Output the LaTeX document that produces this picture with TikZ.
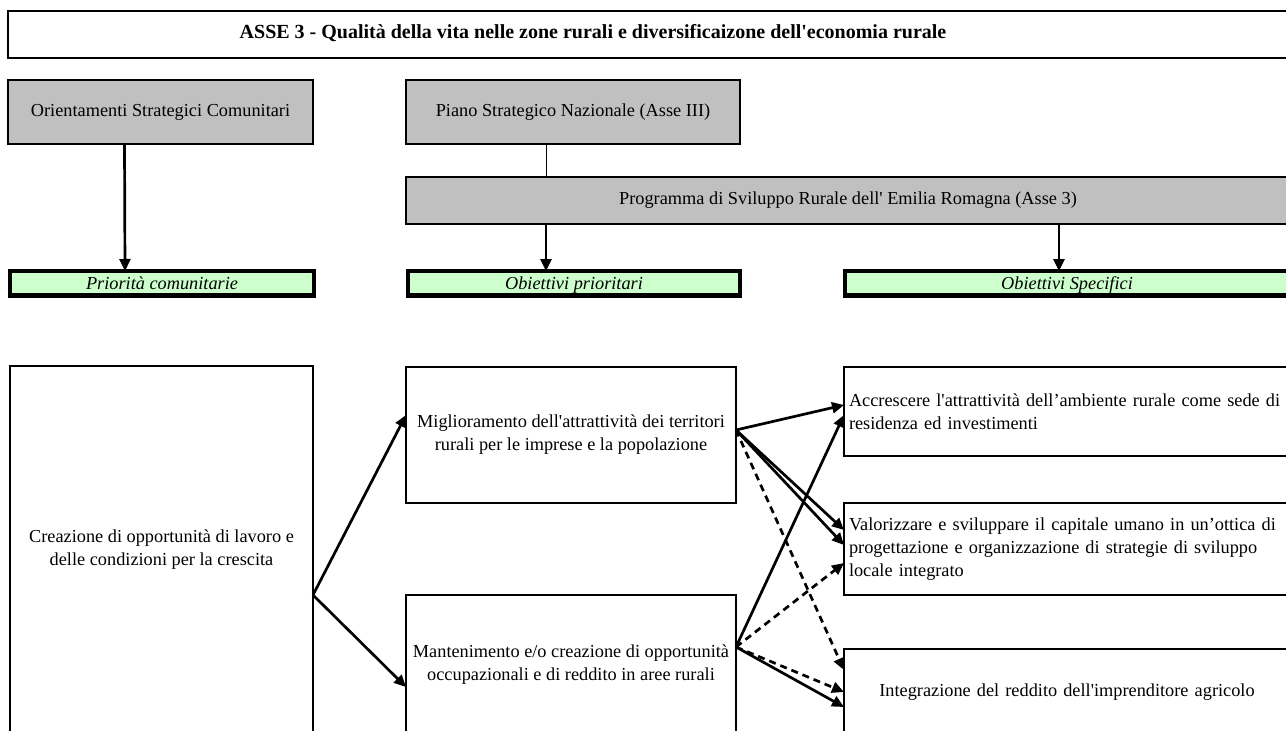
\documentclass[tikz,border=0pt]{standalone}
\usepackage{fontspec}
\setmainfont{Liberation Serif}
\usetikzlibrary{arrows.meta,positioning,calc}
\definecolor{strategyColor}{HTML}{C0C0C0}
\definecolor{goalColor}{HTML}{CCFFCC}
\newcommand{\apos}{\textquotesingle}

\begin{document}
\begin{tikzpicture}[x=1pt,y=-1pt,
    >={Triangle[length=12pt,width=11pt]},align=center,
    every node/.style={font=\fontsize{18.3}{23}\selectfont}]
    \tikzstyle{base}=[draw=black,line width=2.5pt,inner sep=3pt,outer sep=0pt]
    \tikzstyle{banner}=[base,minimum height=47pt]
    \tikzstyle{strategy}=[base,fill=strategyColor,minimum height=64pt]
    \tikzstyle{goalbar}=[base,line width=4.5pt,fill=goalColor,minimum height=24.5pt,inner ysep=0pt,text height=13pt,text depth=0pt,font=\fontsize{18.3}{23}\selectfont\itshape]
    \tikzstyle{measure}=[base,fill=white,minimum width=330pt]
    \tikzstyle{target}=[base,fill=white,minimum width=446pt,text width=436pt,inner xsep=5pt]
    \tikzstyle{arrowline}=[->,line width=2.7pt]
    \tikzstyle{dashline}=[arrowline,dash pattern=on 7pt off 5pt]
    \tikzstyle{joinline}=[line width=1pt]
    \path [use as bounding box,clip] (0,0) rectangle (1286,731);
    % Title
    \node (title) [banner,minimum width=1292pt,anchor=north west] at (8,11) {};
    \node (titleText) at (593,33) {\fontsize{20}{24}\selectfont\bfseries ASSE 3 - Qualità della vita nelle zone rurali e diversificaizone dell\apos economia rurale};
    % Strategy boxes
    \node (orient) [strategy,minimum width=305pt,anchor=north west] at (8,80)
          {Orientamenti Strategici Comunitari};
    \node (piano) [strategy,minimum width=334pt,right=93pt of orient]
          {Piano Strategico Nazionale (Asse III)};
    \node (prog) [strategy,minimum width=884pt,minimum height=47pt,below=33pt of piano.south west,anchor=north west]
          {Programma di Sviluppo Rurale dell\apos{} Emilia Romagna (Asse 3)};
    % Goal bars
    \node (prio) [goalbar,minimum width=304pt,anchor=north west] at (10,271)
          {Priorità comunitarie};
    \node (obPrior) [goalbar,minimum width=332pt,right=94pt of prio]
          {Obiettivi prioritari};
    \node (obSpec) [goalbar,minimum width=444pt,right=105pt of obPrior]
          {Obiettivi Specifici};
    % Measures
    \node (crea) [measure,minimum width=303pt,minimum height=368pt,anchor=north west] at (10,366)
          {Creazione di opportunità di lavoro e\\delle condizioni per la crescita};
    \node (migl) [measure,minimum height=136pt,anchor=north west] at (406,367)
          {Miglioramento dell\apos attrattività dei territori\\rurali per le imprese e la popolazione};
    \node (mant) [measure,minimum height=140pt,below=92pt of migl.south west,anchor=north west]
          {Mantenimento e/o creazione di opportunità\\occupazionali e di reddito in aree rurali};
    \node (accr) [target,align=left,minimum height=89pt,anchor=north west] at (844,367)
          {Accrescere l\apos attrattività dell’ambiente rurale come sede di\\residenza ed investimenti};
    \node (valo) [target,align=left,minimum height=92pt,below=47pt of accr.south west,anchor=north west]
          {Valorizzare e sviluppare il capitale umano in un’ottica di\\progettazione e organizzazione di strategie di sviluppo\\locale integrato};
    \node (integ) [target,minimum height=86pt,below=54pt of valo.south west,anchor=north west]
          {Integrazione del reddito dell\apos imprenditore agricolo};
    % Edges
    \coordinate (pianoFoot) at ([xshift=-27pt]piano.south);
    \coordinate (priorTop) at ([xshift=-28pt]obPrior.north);
    \coordinate (specTop) at ([xshift=-8pt]obSpec.north);
    \draw [arrowline] ([xshift=-36pt]orient.south) -- ([xshift=-37pt]prio.north);
    \draw [joinline] (pianoFoot) -- (pianoFoot |- prog.north);
    \draw [arrowline] (priorTop |- prog.south) -- (priorTop);
    \draw [arrowline] (specTop |- prog.south) -- (specTop);
    \coordinate (creaOut) at ([yshift=-45pt]crea.east);
    \coordinate (miglOut) at ([yshift=5pt]migl.east);
    \coordinate (mantOut) at ([yshift=18pt]mant.east);
    \draw [arrowline] (creaOut) -- ([yshift=20pt]migl.west);
    \draw [arrowline] (creaOut) -- ([yshift=-22pt]mant.west);
    \draw [arrowline] (miglOut) -- ([yshift=6.5pt]accr.west);
    \draw [arrowline] (miglOut) -- ([yshift=19pt]valo.west);
    \draw [arrowline] (miglOut) -- ([yshift=4pt]valo.west);
    \draw [dashline] (miglOut) -- ([yshift=22pt]integ.west);
    \draw [arrowline] (mantOut) -- ([yshift=-3.5pt]accr.west);
    \draw [dashline] (mantOut) -- ([yshift=-14pt]valo.west);
    \draw [dashline] (mantOut) -- (integ.west);
    \draw [arrowline] (mantOut) -- ([yshift=-15pt]integ.west);
\end{tikzpicture}
\end{document}
